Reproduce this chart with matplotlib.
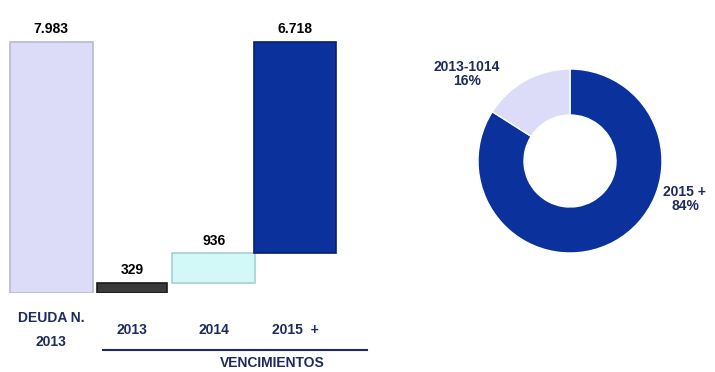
import numpy as np
import matplotlib.pyplot as plt
from matplotlib.transforms import blended_transform_factory

plt.rcParams['font.family'] = ['Liberation Sans', 'DejaVu Sans']

# waterfall data
categories = ['DEUDA N.\n2013', '2013', '2014', '2015  +']
values = [7983, 329, 936, 6718]
value_labels = ['7.983', '329', '936', '6.718']

# donut data
pie_labels = ['2015 +\n84%', '2013-1014\n16%']
pie_values = [84, 16]

navy = '#1F2A5C'
bar_colors = ['#DCDCF8', '#3A3A3A', '#D2F8F8', '#0A319C']
bar_edges = ['#B8B8D8', '#1A1A1A', '#A8D0D0', '#062070']
bar_widths = [1.02, 0.86, 1.02, 1.0]

# bottoms: first bar from 0, then stacked up
bottoms = [0]
run = 0
for v in values[1:]:
    bottoms.append(run)
    run += v

W, H = 715, 372
fig = plt.figure(figsize=(W / 100, H / 100), dpi=100)

ax = fig.add_axes([0, (H - 293) / H, 370 / W, 273 / H])
x = np.arange(len(values))
ax.bar(x, values, bottom=bottoms, width=bar_widths, color=bar_colors,
       edgecolor=bar_edges, linewidth=1.2)
ax.set_xlim(-51 / 81.3, 3.92)
ax.set_ylim(0, values[0] * 273 / 251)
ax.axis('off')

for xi, v, b, lab in zip(x, values, bottoms, value_labels):
    ax.text(xi, v + b + 180, lab, ha='center', va='bottom',
            fontsize=10, fontweight='bold', color='black')

trans = blended_transform_factory(ax.transData, fig.transFigure)
ax.text(x[0], 1 - 330 / H, categories[0], ha='center', va='center',
        fontsize=10, fontweight='bold', color=navy, transform=trans,
        linespacing=2.0)
for xi, lab in zip(x[1:], categories[1:]):
    ax.text(xi, 1 - 330 / H, lab, ha='center', va='center',
            fontsize=10, fontweight='bold', color=navy, transform=trans)

fig.add_artist(plt.Line2D([103 / W, 367 / W], [1 - 350 / H, 1 - 350 / H],
                          color=navy, linewidth=1.5))
fig.text(272 / W, 1 - 363 / H, 'VENCIMIENTOS', ha='center', va='center',
         fontsize=10, fontweight='bold', color=navy)

# donut
cx, cy, r = 570, 161, 92
side = 200
ax2 = fig.add_axes([(cx - side / 2) / W, (H - cy - side / 2) / H, side / W, side / H])
ax2.pie(pie_values, colors=['#0A319C', '#DCDCF8'], startangle=90, counterclock=False,
        wedgeprops=dict(width=0.5, edgecolor='white', linewidth=1.0))
lim = side / 2 / r
ax2.set_xlim(-lim, lim)
ax2.set_ylim(-lim, lim)
ax2.set_aspect('equal')
ax2.axis('off')

ax2.text((685 - cx) / r, (cy - 199) / r, pie_labels[0], ha='center', va='center',
         fontsize=10, fontweight='bold', color=navy, linespacing=1.0)
ax2.text((467 - cx) / r, (cy - 74) / r, pie_labels[1], ha='center', va='center',
         fontsize=10, fontweight='bold', color=navy, linespacing=1.0)

fig.savefig('out.png', dpi=100)
